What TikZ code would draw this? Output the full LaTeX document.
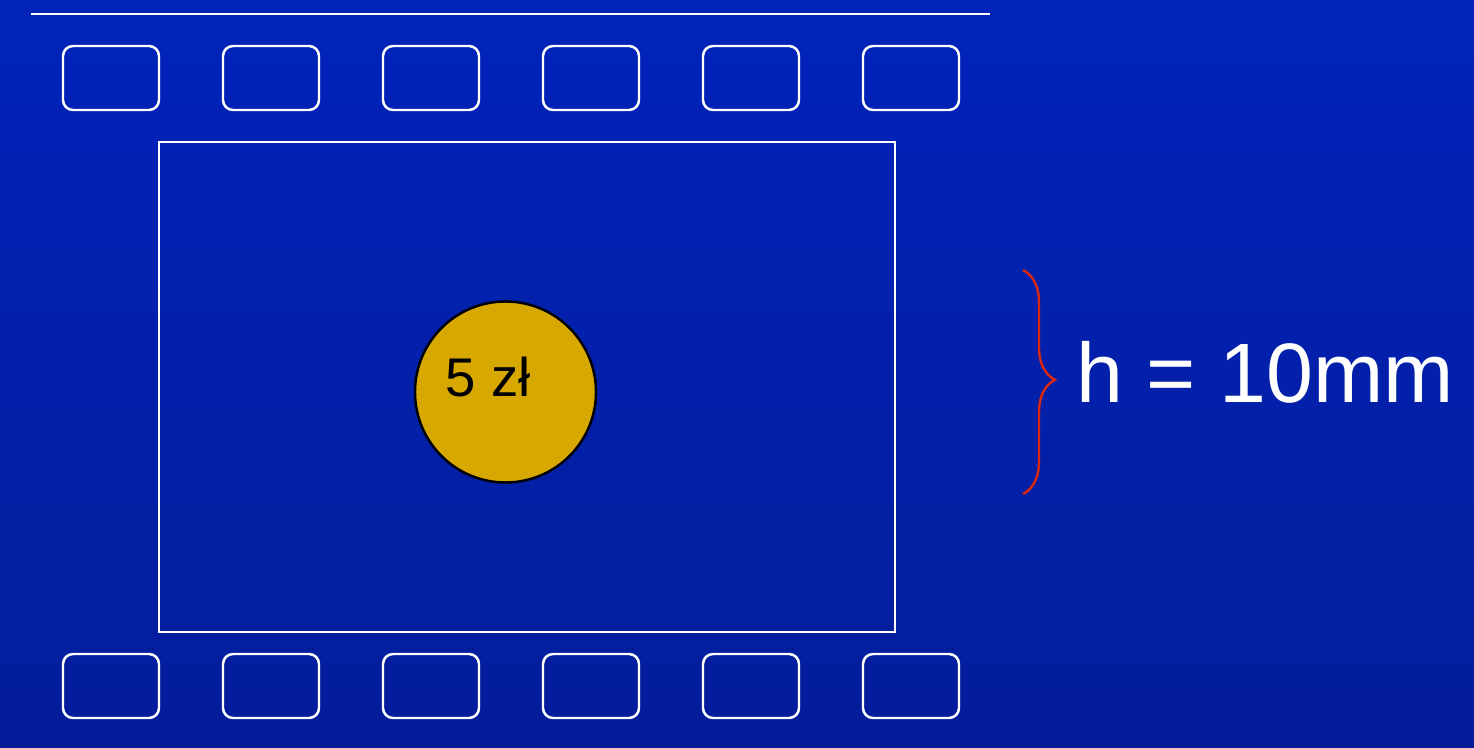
\documentclass[tikz,border=0pt]{standalone}
\usepackage{fontspec}
\setmainfont{Liberation Sans}
\usetikzlibrary{positioning,decorations.pathreplacing}
\definecolor{filmTop}{RGB}{1,35,186}
\definecolor{filmBottom}{RGB}{3,29,154}
\definecolor{coinGold}{RGB}{214,168,0}
\definecolor{braceRed}{RGB}{214,40,18}
\tikzset{
  fcoin/.style={font=\fontsize{15.5}{18}\selectfont, text=black, inner sep=0pt},
  fbig/.style={font=\fontsize{24}{29}\selectfont, text=white, inner sep=0pt},
  fline/.style={draw=white, line width=.7pt}
}

\begin{document}
\begin{tikzpicture}[
  hole/.style={fline, rounded corners=1mm, minimum width=.96cm,
    minimum height=.64cm, inner sep=0pt},
  frame/.style={fline, minimum width=7.36cm, minimum height=4.90cm,
    inner sep=0pt},
  coin/.style={circle, draw=black, line width=.7pt, fill=coinGold,
    minimum size=1.81cm, inner sep=0pt},
  hbrace/.style={draw=braceRed, line width=.7pt, decorate,
    decoration={brace, amplitude=3.2mm, aspect=.49}}
]
\useasboundingbox (0,0) rectangle (14.74,7.47);
\shade[top color=filmTop, bottom color=filmBottom] (0,0) rectangle (14.74,7.47);

% film edge
\coordinate (e1) at (.31,7.33);
\coordinate (e2) at (9.90,7.33);
\draw[fline] (e1) -- (e2);

% sprocket holes, top row
\node[hole] (t1) at (1.11,6.69) {};
\node[hole] (t2) at (2.71,6.69) {};
\node[hole] (t3) at (4.31,6.69) {};
\node[hole] (t4) at (5.91,6.69) {};
\node[hole] (t5) at (7.51,6.69) {};
\node[hole] (t6) at (9.11,6.69) {};

% sprocket holes, bottom row
\node[hole] (b1) at (1.11,.61) {};
\node[hole] (b2) at (2.71,.61) {};
\node[hole] (b3) at (4.31,.61) {};
\node[hole] (b4) at (5.91,.61) {};
\node[hole] (b5) at (7.51,.61) {};
\node[hole] (b6) at (9.11,.61) {};

\node[frame] (fr) at (5.27,3.60) {};
\node[coin] (c) at (5.055,3.55) {};
\node[fcoin, anchor=base west] (cl) at (4.45,3.51) {5 zł};

% height mark
\coordinate (h1) at (10.23,4.77);
\coordinate (h2) at (10.23,2.53);
\draw[hbrace] (h1) -- (h2);
\node[fbig, anchor=base west] (hl) at (10.76,3.44) {h = 10mm};
\end{tikzpicture}
\end{document}
